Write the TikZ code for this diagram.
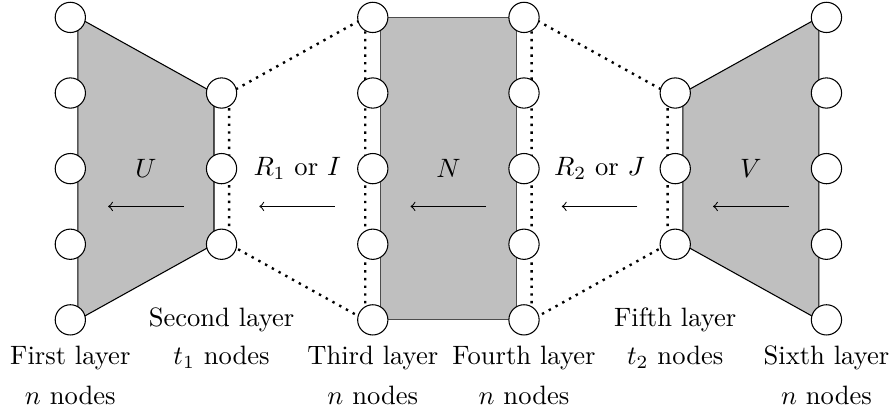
\documentclass[tikz,border=0pt]{standalone}
\usetikzlibrary{calc,backgrounds}
\begin{document}
\begin{tikzpicture}[
		neuron/.style={circle,draw,fill=white,minimum size=0.4cm,inner sep=0pt},
		block/.style={draw,fill=gray!50},
		link/.style={dotted,line width=0.9pt}
	]
	\useasboundingbox (-0.93,-1.27) rectangle (10.88,4.23);
	% layers with n nodes
	\foreach \l/\x in {1/0,3/4,4/6,6/10}
		\foreach \r in {0,...,4}
			\node[neuron] (n\l-\r) at (\x,\r) {};
	% layers with t nodes
	\foreach \l/\x in {2/2,5/8}
		\foreach \r in {1,2,3}
			\node[neuron] (n\l-\r) at (\x,\r) {};
	\begin{scope}[on background layer]
		\draw[block] ($(n1-4)+(0.1,0)$) -- ($(n2-3)+(-0.1,0)$) -- ($(n2-1)+(-0.1,0)$) -- ($(n1-0)+(0.1,0)$) -- cycle;
		\draw[block,draw=black!70] ($(n3-4)+(0.1,0)$) rectangle ($(n4-0)+(-0.1,0)$);
		\draw[block] ($(n6-4)+(-0.1,0)$) -- ($(n5-3)+(0.1,0)$) -- ($(n5-1)+(0.1,0)$) -- ($(n6-0)+(-0.1,0)$) -- cycle;
		\draw[link] ($(n2-3)+(0.1,0)$) -- ($(n3-4)+(-0.1,0)$) -- ($(n3-0)+(-0.1,0)$) -- ($(n2-1)+(0.1,0)$) -- cycle;
		\draw[link] ($(n5-3)+(-0.1,0)$) -- ($(n4-4)+(0.1,0)$) -- ($(n4-0)+(0.1,0)$) -- ($(n5-1)+(-0.1,0)$) -- cycle;
	\end{scope}
	% maps
	\node (mU) at (1,2) {$U$};
	\node (mR) at (3,2) {$R_1$ or $I$};
	\node (mN) at (5,2) {$N$};
	\node (mJ) at (7,2) {$R_2$ or $J$};
	\node (mV) at (9,2) {$V$};
	\foreach \m/\x in {U/1,R/3,N/5,J/7,V/9} {
		\coordinate (\m-head) at (\x-0.5,1.5);
		\coordinate (\m-tail) at (\x+0.5,1.5);
		\draw[->] (\m-tail) -- (\m-head);
	}
	% layer captions
	\node (c1) at (0,-0.5) {First layer};
	\node (c1n) at (0,-1) {$n$ nodes};
	\node (c2) at (2,0) {Second layer};
	\node (c2n) at (2,-0.5) {$t_1$ nodes};
	\node (c3) at (4,-0.5) {Third layer};
	\node (c3n) at (4,-1) {$n$ nodes};
	\node (c4) at (6,-0.5) {Fourth layer};
	\node (c4n) at (6,-1) {$n$ nodes};
	\node (c5) at (8,0) {Fifth layer};
	\node (c5n) at (8,-0.5) {$t_2$ nodes};
	\node (c6) at (10,-0.5) {Sixth layer};
	\node (c6n) at (10,-1) {$n$ nodes};
\end{tikzpicture}
\end{document}
